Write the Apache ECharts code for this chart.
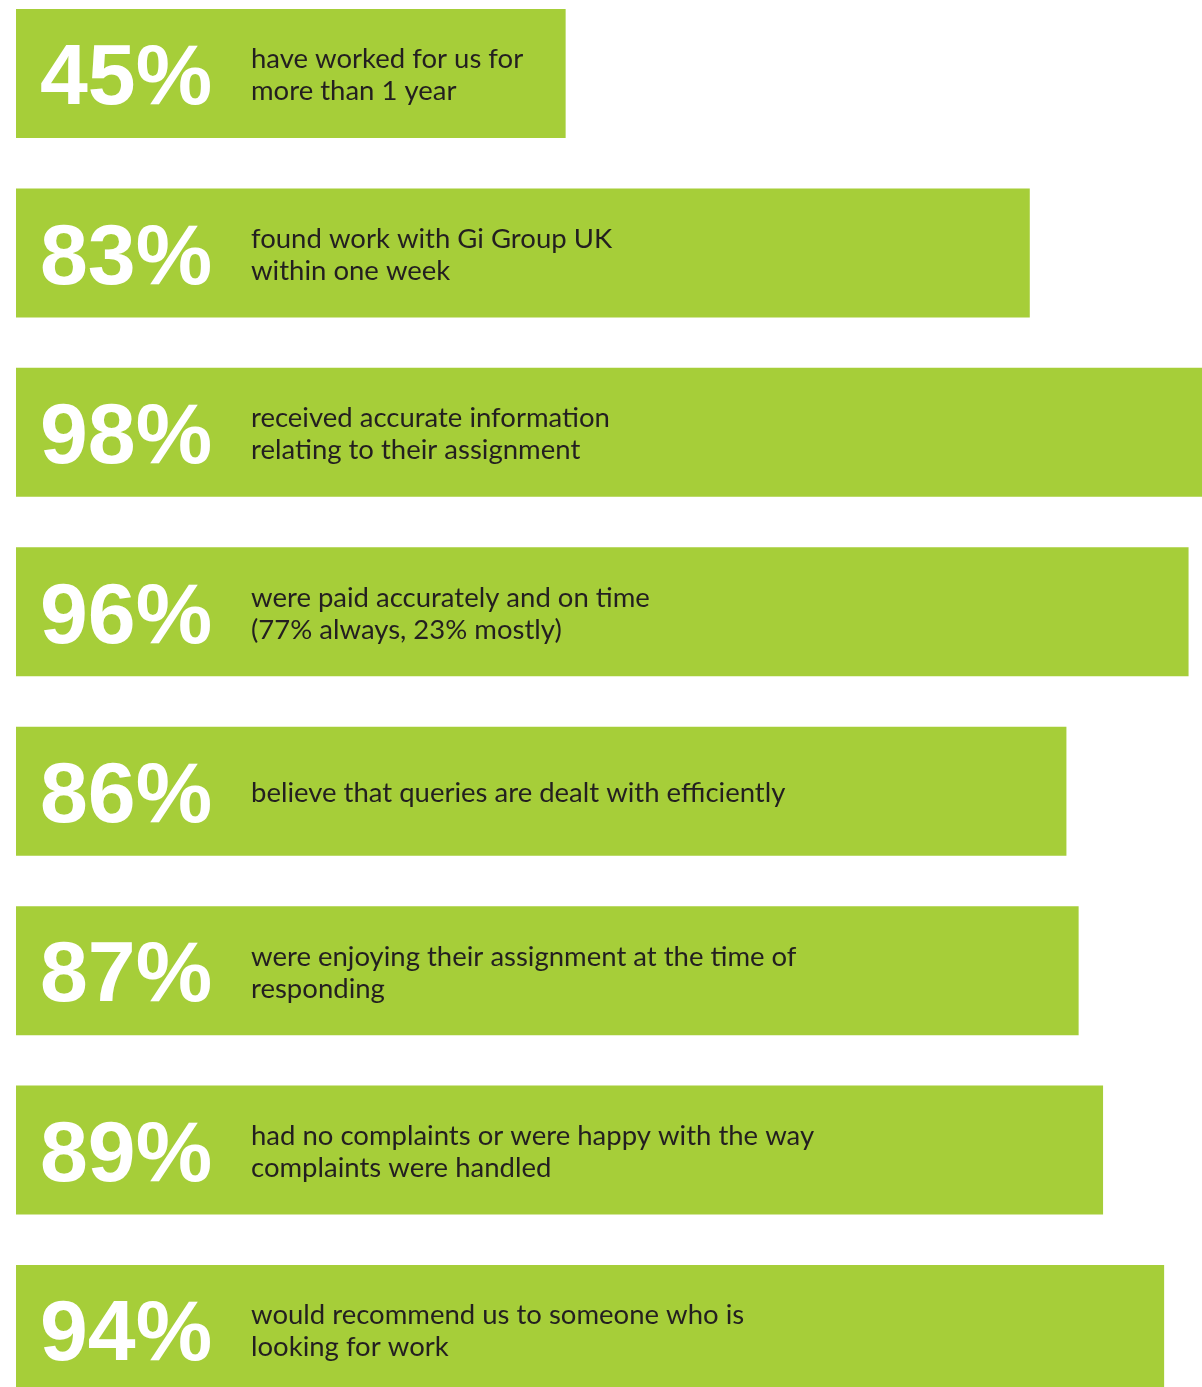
<!DOCTYPE html>
<html>
<head>
<meta charset="utf-8">
<title>Survey results</title>
<script src="https://cdn.jsdelivr.net/npm/echarts@6/dist/echarts.min.js"></script>
<style>
  html, body { margin: 0; padding: 0; background: #ffffff; }
  #main { width: 1202px; height: 1387px; }
</style>
</head>
<body>
<div id="main"></div>
<script>
// data
var values = [45, 83, 98, 96, 86, 87, 89, 94];
var descriptions = [
  'have worked for us for\nmore than 1 year',
  'found work with Gi Group UK\nwithin one week',
  'received accurate information\nrelating to their assignment',
  'were paid accurately and on time\n(77% always, 23% mostly)',
  'believe that queries are dealt with efficiently',
  'were enjoying their assignment at the time of\nresponding',
  'had no complaints or were happy with the way\ncomplaints were handled',
  'would recommend us to someone who is\nlooking for work'
];
var categories = values.map(function (v, i) { return 'q' + (i + 1); });

var chart = echarts.init(document.getElementById('main'));

var option = {
  animation: false,
  // first bar centre at 73.5, last at 1329.5
  grid: { left: 16, right: 0, top: 73.5, bottom: 57.5 },
  xAxis: { type: 'value', min: 0, max: 97.1, show: false },
  yAxis: { type: 'category', data: categories, inverse: true, boundaryGap: false, show: false },
  series: [
    {
      // the green bars with the big percentages
      type: 'bar',
      data: values,
      barWidth: 129,
      clip: false,
      itemStyle: { color: '#a6ce39' },
      label: {
        show: true,
        position: 'insideLeft',
        distance: 24,
        formatter: '{c}%',
        color: '#ffffff',
        fontFamily: 'Liberation Sans',
        fontWeight: 'bold',
        fontSize: 86,
        offset: [0, 7]
      }
    },
    {
      // transparent overlay, only for the description text
      type: 'bar',
      data: values,
      barWidth: 129,
      barGap: '-100%',
      clip: false,
      itemStyle: { color: 'rgba(0,0,0,0)' },
      label: {
        show: true,
        position: 'insideLeft',
        distance: 235,
        formatter: function (p) { return descriptions[p.dataIndex]; },
        color: '#231f20',
        fontFamily: 'Lato',
        fontSize: 27.5,
        lineHeight: 32,
        offset: [0, 2]
      }
    }
  ]
};

chart.setOption(option);
</script>
</body>
</html>
